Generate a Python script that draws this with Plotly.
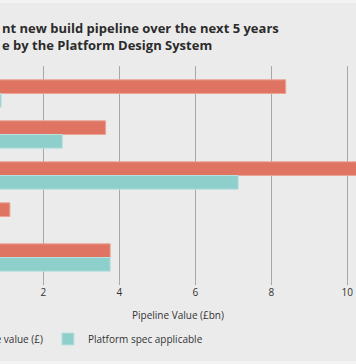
import plotly.graph_objects as go

categories = ["Category 1", "Category 2", "Category 3", "Category 4", "Category 5"]
pipeline_value = [8.38, 3.64, 10.6, 1.12, 3.76]
platform_spec = [0.89, 2.50, 7.13, 0.0, 3.76]
x_ticks = [2, 4, 6, 8, 10]

W, H = 356, 364
PT, PB = 66, 285  # plot area top/bottom in px

def py(p):
    return (PB - p) / (PB - PT)

FONT = "Open Sans"
fig = go.Figure()
fig.add_trace(go.Bar(
    y=categories, x=pipeline_value, orientation="h", name="Pipeline value (£)",
    marker=dict(color="#e07462", line=dict(color="#eba496", width=1)),
))
fig.add_trace(go.Bar(
    y=categories, x=platform_spec, orientation="h", name="Platform spec applicable",
    marker=dict(color="#8ecfcc", line=dict(color="#b8e1df", width=1)),
))

fig.update_layout(
    width=W, height=H,
    margin=dict(l=0, r=0, t=PT, b=H - PB, autoexpand=False),
    paper_bgcolor="#f3f3f3",
    plot_bgcolor="rgba(0,0,0,0)",
    barmode="group", bargap=0.333, bargroupgap=0,
    font=dict(family=FONT, size=10, color="#333333"),
    showlegend=True,
    legend=dict(orientation="h", x=-0.213, xanchor="left", y=py(339), yanchor="middle",
                font=dict(family=FONT, size=10, color="#333333"),
                bgcolor="rgba(0,0,0,0)", traceorder="normal"),
    xaxis=dict(range=[0.86, 10.23], tickvals=x_ticks, showgrid=True,
               gridcolor="#a8a8a8", gridwidth=1, zeroline=False, showline=False,
               ticks="", tickfont=dict(size=10, color="#333333"),
               title=dict(text="Pipeline Value (£bn)", font=dict(size=10, color="#333333"),
                          standoff=13)),
    yaxis=dict(categoryorder="array", categoryarray=categories,
               range=[4.67, -0.67], showticklabels=False, showgrid=False,
               zeroline=False, showline=False, ticks=""),
    shapes=[dict(type="rect", xref="paper", yref="paper", x0=-0.1, x1=1.1,
                 y0=py(361), y1=py(3), fillcolor="#ebebeb", line=dict(width=0),
                 layer="below")],
    annotations=[dict(text="nt new build pipeline over the next 5 years<br>e by the Platform Design System",
                      xref="paper", yref="paper", x=0, y=py(17), xanchor="left", yanchor="top",
                      align="left", showarrow=False,
                      font=dict(family=FONT, size=13, color="#2b2b2b", weight="bold"))],
)

fig.write_html("out.html", config={"displayModeBar": False},
               post_script="document.body.style.margin='0';document.body.style.overflow='hidden';")
